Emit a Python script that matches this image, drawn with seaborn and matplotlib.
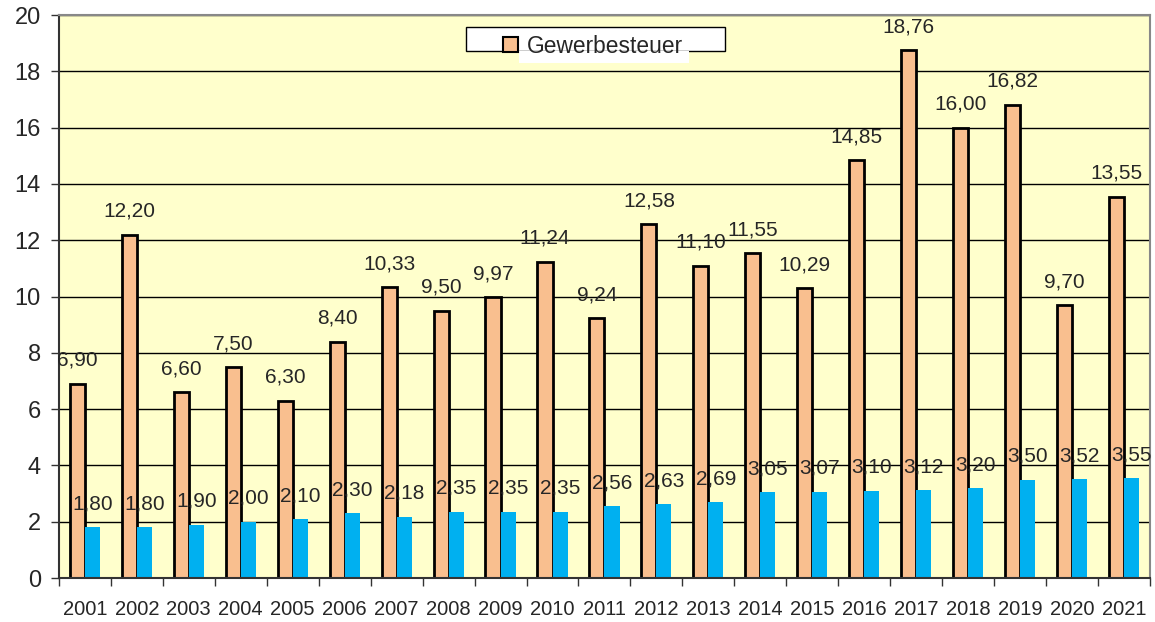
import matplotlib
matplotlib.use("Agg")
import matplotlib.pyplot as plt
from matplotlib.patches import Patch, Rectangle
import seaborn as sns
import pandas as pd
import numpy as np

# Daten
jahre = [str(j) for j in range(2001, 2022)]
gewerbesteuer = [6.90, 12.20, 6.60, 7.50, 6.30, 8.40, 10.33, 9.50, 9.97, 11.24, 9.24,
                 12.58, 11.10, 11.55, 10.29, 14.85, 18.76, 16.00, 16.82, 9.70, 13.55]
grundsteuer = [1.80, 1.80, 1.90, 2.00, 2.10, 2.30, 2.18, 2.35, 2.35, 2.35, 2.56,
               2.63, 2.69, 3.05, 3.07, 3.10, 3.12, 3.20, 3.50, 3.52, 3.55]
serien = ["Gewerbesteuer", "Grundsteuer"]
farben = ["#F9BF8F", "#00B0F0"]

df = pd.DataFrame({
    "Jahr": jahre * 2,
    "Wert": gewerbesteuer + grundsteuer,
    "Serie": [serien[0]] * len(jahre) + [serien[1]] * len(jahre),
})

sns.set_style("white")
plt.rcParams["font.family"] = ["Liberation Sans", "DejaVu Sans"]

fig = plt.figure(figsize=(11.55, 6.22), dpi=100)
ax = fig.add_axes([0.051, 0.0707, 0.9447, 0.905])
ax.set_facecolor("#FFFFCC")

sns.barplot(data=df, x="Jahr", y="Wert", hue="Serie", palette=farben,
            width=0.58, gap=0, ax=ax, legend=False, saturation=1)

# Rahmen für orange Balken
for p in ax.containers[0]:
    p.set_edgecolor("black")
    p.set_linewidth(2)
for p in ax.containers[1]:
    p.set_edgecolor("none")

for c in ax.containers:
    ax.bar_label(c, labels=[f"{v:.2f}".replace(".", ",") for v in c.datavalues],
                 padding=10, fontsize=15)

ax.set_ylim(0, 20)
ax.set_yticks(range(0, 21, 2))
ax.set_xlim(-0.5, len(jahre) - 0.5)
ax.yaxis.grid(True, color="black", linewidth=1)
ax.set_axisbelow(True)
ax.set_xlabel("")
ax.set_ylabel("")

ax.tick_params(axis="y", labelsize=17, length=6, width=1, color="#333333", left=True, pad=7)
ax.tick_params(axis="x", which="major", labelsize=14.5, length=0, pad=16)
ax.set_xticks(np.arange(-0.5, len(jahre), 1), minor=True)
ax.tick_params(axis="x", which="minor", length=6, width=1, color="#333333", bottom=True)

for s in ["left", "bottom"]:
    ax.spines[s].set_color("#333333")
    ax.spines[s].set_linewidth(1.5)
for s in ["top", "right"]:
    ax.spines[s].set_color("#888888")
    ax.spines[s].set_linewidth(1.5)

# Legende (Rahmen separat, breiter als Inhalt)
ax.add_patch(Rectangle((0.373, 0.936), 0.2375, 0.0426, transform=ax.transAxes,
                       facecolor="white", edgecolor="black", linewidth=1, zorder=4))
ax.add_patch(Rectangle((0.4216, 0.9147), 0.156, 0.0213, transform=ax.transAxes,
                       facecolor="white", edgecolor="none", zorder=4))
leg = ax.legend(handles=[Patch(facecolor=farben[0], edgecolor="black", linewidth=1.5, label=serien[0])],
                loc="center left", bbox_to_anchor=(0.407, 0.945), fontsize=16.4,
                frameon=False, borderpad=0, handlelength=0.66, handleheight=0.66,
                handletextpad=0.4, borderaxespad=0)
leg.set_zorder(5)

fig.savefig("out.png", dpi=100)
